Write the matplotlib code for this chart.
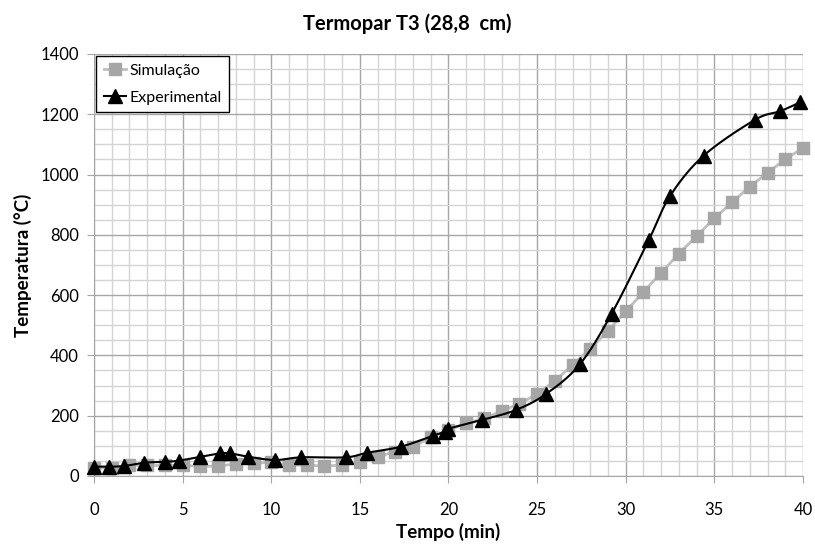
import matplotlib.pyplot as plt
import numpy as np
from matplotlib.ticker import MultipleLocator

# Simulation (gray squares), one point per minute
sim_t = np.arange(0, 41)
sim_temp = [25, 28, 35, 35, 35, 35, 32, 33, 40, 43,
            45, 36, 36, 33, 36, 47, 64, 81, 97, 128,
            152, 175, 191, 215, 240, 272, 316, 368, 422, 482,
            546, 611, 674, 738, 796, 855, 908, 960, 1006, 1051,
            1088]

# Experimental (black triangles)
exp_t = [0, 0.85, 1.7, 2.8, 4.0, 4.8, 6.0, 7.1, 7.7, 8.7,
         10.2, 11.7, 14.2, 15.4, 17.3, 19.1, 19.8, 20.0, 21.9, 23.8,
         25.5, 27.4, 29.2, 31.3, 32.5, 34.4, 37.3, 38.7, 39.85]
exp_temp = [31, 31, 33, 44, 47, 51, 64, 75, 75, 64,
            53, 62, 62, 77, 97, 133, 147, 157, 186, 219,
            272, 370, 538, 783, 929, 1063, 1182, 1210, 1240]


def smooth_curve(x, y, n=30):
    # Catmull-Rom style smoothing, like a spreadsheet "smoothed line"
    x = np.asarray(x, float)
    y = np.asarray(y, float)
    px = np.concatenate([[x[0]], x, [x[-1]]])
    py = np.concatenate([[y[0]], y, [y[-1]]])
    xs, ys = [], []
    for i in range(1, len(px) - 2):
        p0, p1, p2, p3 = (np.array([px[j], py[j]]) for j in (i - 1, i, i + 1, i + 2))
        c1 = p1 + (p2 - p0) / 6.0
        c2 = p2 - (p3 - p1) / 6.0
        t = np.linspace(0, 1, n)[:, None]
        seg = ((1 - t) ** 3) * p1 + 3 * ((1 - t) ** 2) * t * c1 + 3 * (1 - t) * t ** 2 * c2 + t ** 3 * p2
        xs.extend(seg[:, 0])
        ys.extend(seg[:, 1])
    return np.array(xs), np.array(ys)


plt.rcParams['font.family'] = ['Lato', 'DejaVu Sans']

fig = plt.figure(figsize=(8.15, 5.47), dpi=100)
ax = fig.add_axes([0.1153, 0.1298, 0.8700, 0.7715])

ax.set_xlim(0, 40)
ax.set_ylim(0, 1400)
ax.xaxis.set_major_locator(MultipleLocator(5))
ax.xaxis.set_minor_locator(MultipleLocator(1))
ax.yaxis.set_major_locator(MultipleLocator(200))
ax.yaxis.set_minor_locator(MultipleLocator(50))
ax.grid(which='major', color='#a6a6a6', linewidth=1.0)
ax.grid(which='minor', color='#d4d4d4', linewidth=1.0)
ax.set_axisbelow(True)
for side in ['top', 'right']:
    ax.spines[side].set_visible(False)
for side in ['bottom', 'left']:
    ax.spines[side].set_color('#a6a6a6')
ax.tick_params(which='major', length=5, color='#a6a6a6', labelsize=12)
ax.tick_params(axis='x', pad=14)
ax.tick_params(axis='y', pad=6)
ax.tick_params(which='minor', length=0)

ax.plot(sim_t, sim_temp, color='#bfbfbf', linewidth=2, marker='s', markersize=8,
        markerfacecolor='#a6a6a6', markeredgecolor='#a6a6a6', label='Simulação', clip_on=False, zorder=3)

sx, sy = smooth_curve(exp_t, exp_temp)
ax.plot(sx, sy, color='black', linewidth=1.5, zorder=4, clip_on=False)
ax.plot(exp_t, exp_temp, linestyle='none', marker='^', markersize=9.5, color='black', clip_on=False, zorder=5)
ax.plot([], [], color='black', linewidth=1.5, marker='^', markersize=9.5, label='Experimental')

leg = ax.legend(loc='upper left', bbox_to_anchor=(0.0, 1.0), fontsize=11.5, frameon=True,
                fancybox=False, edgecolor='black', framealpha=1, borderaxespad=0.15,
                handlelength=1.4, handletextpad=0.2, labelspacing=0.8, borderpad=0.45)
leg.get_frame().set_linewidth(1.0)

fig.text(0.5, 0.957, 'Termopar T3 (28,8  cm)', fontsize=14.5, fontweight='bold', ha='center', va='center')
ax.set_xlabel('Tempo (min)', fontsize=13.5, fontweight='bold', labelpad=3)
ax.set_ylabel('Temperatura (°C)', fontsize=13.5, fontweight='bold', labelpad=6)

fig.savefig('out.png', dpi=100)
